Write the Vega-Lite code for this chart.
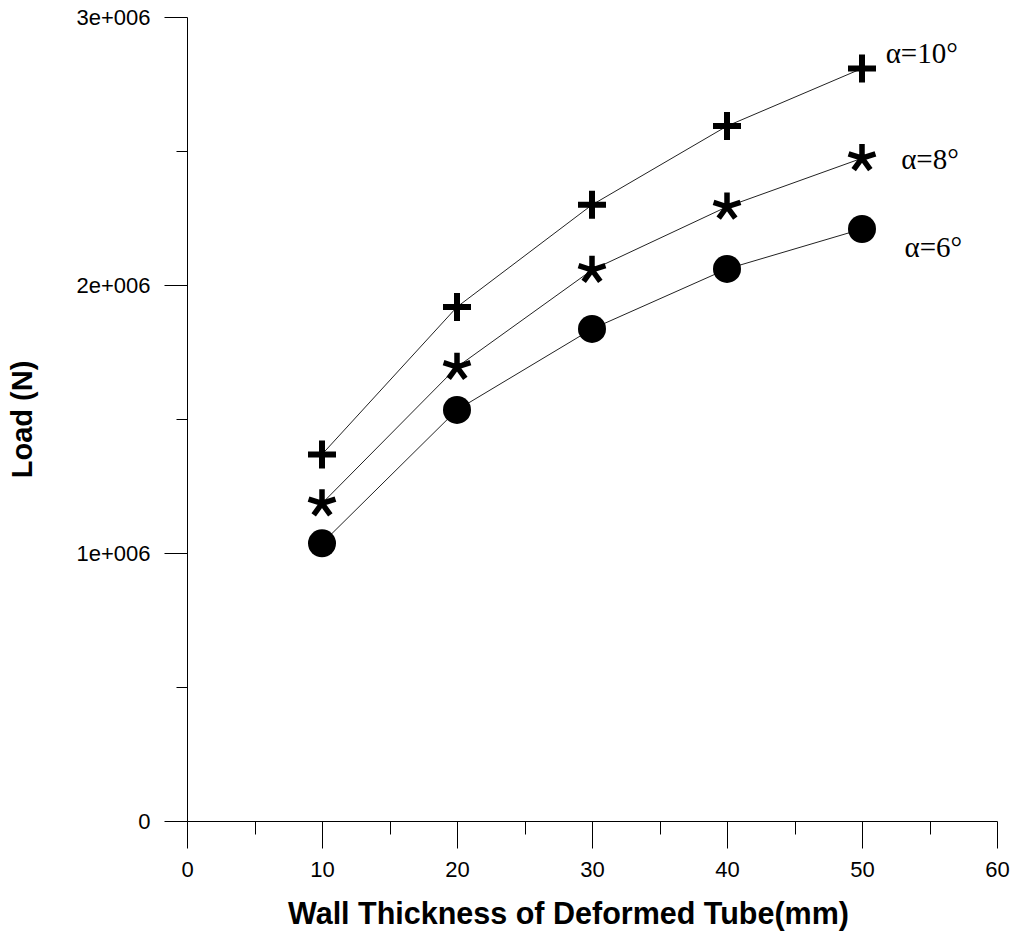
{
  "$schema": "https://vega.github.io/schema/vega-lite/v6.json",
  "autosize": "none",
  "padding": {"left": 187, "top": 17, "right": 19, "bottom": 116},
  "width": 810,
  "height": 804,
  "background": "white",
  "config": {"view": {"stroke": null}},
  "datasets": {
    "pts": [
      {"series": "a10", "t": 10, "load": 1368000},
      {"series": "a10", "t": 20, "load": 1918000},
      {"series": "a10", "t": 30, "load": 2299000},
      {"series": "a10", "t": 40, "load": 2593000},
      {"series": "a10", "t": 50, "load": 2808000},
      {"series": "a8", "t": 10, "load": 1185000},
      {"series": "a8", "t": 20, "load": 1694000},
      {"series": "a8", "t": 30, "load": 2056000},
      {"series": "a8", "t": 40, "load": 2292000},
      {"series": "a8", "t": 50, "load": 2473000},
      {"series": "a6", "t": 10, "load": 1036000},
      {"series": "a6", "t": 20, "load": 1534000},
      {"series": "a6", "t": 30, "load": 1836000},
      {"series": "a6", "t": 40, "load": 2060000},
      {"series": "a6", "t": 50, "load": 2209000}
    ],
    "labels": [
      {"label": "α=10°", "t": 51.75, "load": 2862000},
      {"label": "α=8°", "t": 52.9, "load": 2466000},
      {"label": "α=6°", "t": 53.15, "load": 2138000}
    ]
  },
  "encoding": {
    "x": {
      "field": "t", "type": "quantitative",
      "scale": {"domain": [0, 60], "nice": false, "zero": false},
      "axis": {
        "title": "Wall Thickness of Deformed Tube(mm)",
        "values": [0, 5, 10, 15, 20, 25, 30, 35, 40, 45, 50, 55, 60],
        "labelExpr": "datum.value % 10 === 0 ? datum.label : ''",
        "tickSize": {"condition": {"test": "datum.value % 10 === 0", "value": 27}, "value": 13},
        "grid": false,
        "domainColor": "black", "tickColor": "black", "domainWidth": 1, "tickWidth": 1,
        "labelFont": "Liberation Sans", "labelFontSize": 22, "labelColor": "black",
        "labelPadding": 11, "labelFlush": false, "labelOverlap": false,
        "titleFont": "Liberation Sans", "titleFontSize": 30.5, "titleFontWeight": "bold", "titleColor": "black",
        "titleX": 381, "titleY": 93, "titleBaseline": "middle", "titleAlign": "center"
      }
    },
    "y": {
      "field": "load", "type": "quantitative",
      "scale": {"domain": [0, 3000000], "nice": false},
      "axis": {
        "title": "Load (N)",
        "values": [0, 500000, 1000000, 1500000, 2000000, 2500000, 3000000],
        "labelExpr": "datum.value === 0 ? '0' : (datum.value % 1000000 === 0 ? (datum.value / 1000000) + 'e+006' : '')",
        "tickSize": {"condition": {"test": "datum.value % 1000000 === 0", "value": 23}, "value": 11},
        "grid": false,
        "domainColor": "black", "tickColor": "black", "domainWidth": 1, "tickWidth": 1,
        "labelFont": "Liberation Sans", "labelFontSize": 22, "labelColor": "black",
        "labelPadding": 14, "labelFlush": false, "labelOverlap": false, "labelBaseline": "middle",
        "titleFont": "Liberation Sans", "titleFontSize": 29, "titleFontWeight": "bold", "titleColor": "black",
        "titleX": -165, "titleY": 402, "titleAngle": -90, "titleBaseline": "middle", "titleAlign": "center"
      }
    }
  },
  "layer": [
    {
      "data": {"name": "pts"},
      "mark": {"type": "line", "color": "#222", "strokeWidth": 1},
      "encoding": {"detail": {"field": "series"}}
    },
    {
      "data": {"name": "pts"},
      "transform": [{"filter": "datum.series === 'a10'"}],
      "mark": {"type": "point", "shape": "M-1,0L1,0M0,-1L0,1", "size": 784, "filled": false, "stroke": "black", "strokeWidth": 6, "opacity": 1}
    },
    {
      "data": {"name": "pts"},
      "transform": [{"filter": "datum.series === 'a8'"}],
      "mark": {"type": "point", "shape": "M0,0L0,-1M0,0L0.951,-0.309M0,0L-0.951,-0.309M0,0L-0.588,0.809M0,0L0.588,0.809", "size": 800, "filled": false, "stroke": "black", "strokeWidth": 5.5, "opacity": 1}
    },
    {
      "data": {"name": "pts"},
      "transform": [{"filter": "datum.series === 'a6'"}],
      "mark": {"type": "point", "shape": "circle", "size": 784, "filled": true, "fill": "black", "opacity": 1}
    },
    {
      "data": {"name": "labels"},
      "mark": {"type": "text", "align": "left", "baseline": "middle", "font": "Liberation Serif", "fontSize": 29, "color": "black"},
      "encoding": {"text": {"field": "label"}}
    }
  ]
}
